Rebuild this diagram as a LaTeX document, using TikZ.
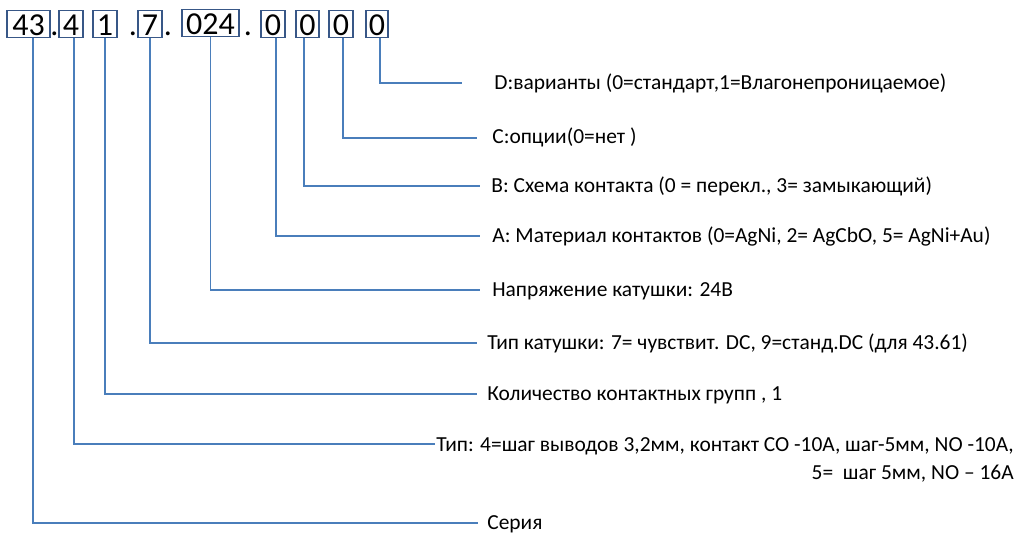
\documentclass[tikz,border=0pt]{standalone}
\usepackage{fontspec}
\setmainfont{Carlito}
\usepackage{tikz}
\usetikzlibrary{positioning, calc}
\definecolor{boxedge}{RGB}{56,87,135}
\definecolor{leadblue}{RGB}{74,126,187}
\tikzset{
  codebox/.style={rectangle, draw=boxedge, line width=0.6pt, inner sep=0pt,
    text height=14.7pt, text depth=1.1pt, minimum width=#1,
    font=\fontsize{18.2}{20}\selectfont},
  codedot/.style={inner sep=0pt, anchor=base, font=\fontsize{18.2}{20}\selectfont},
  lbl/.style={inner sep=0pt, anchor=base west, font=\fontsize{12.2}{14}\selectfont},
  lead/.style={line width=1.1pt, color=leadblue}
}
\newcommand{\codept}{\makebox[2.5pt]{.}}
\begin{document}
\begin{tikzpicture}[x=0.02cm, y=-0.02cm]
  \useasboundingbox (0,0) rectangle (1025,540);

  % code boxes
  \node[codebox=0.86cm] (b43) at (28.5,24) {43};
  \node[codebox=0.48cm] (b4) at (71,24) {4};
  \node[codebox=0.48cm] (b1) at (105,24) {1};
  \node[codebox=0.48cm] (b7) at (150,24) {7};
  \node[codebox=1.14cm] (b024) at (210.5,23) {024};
  \node[codebox=0.48cm] (bA) at (273,24) {0};
  \node[codebox=0.46cm] (bB) at (307.5,24) {0};
  \node[codebox=0.48cm] (bC) at (341,24) {0};
  \node[codebox=0.44cm] (bD) at (377,24) {0};

  % dots between groups
  \node[codedot] (p1) at (54.5,36) {\codept};
  \node[codedot] (p2) at (133,36) {\codept};
  \node[codedot] (p3) at (168,36) {\codept};
  \node[codedot] (p4) at (248,36) {\codept};

  % ends of the leader lines
  \coordinate (eD) at (462,83);
  \coordinate (eC) at (477,138);
  \coordinate (eB) at (480,186);
  \coordinate (eA) at (480,236);
  \coordinate (eU) at (480,290);
  \coordinate (eK) at (477,343);
  \coordinate (eN) at (477,394);
  \coordinate (eT) at (435,444);
  \coordinate (eS) at (478,523);

  % labels
  \node[lbl] (lD) at (494,90) {D:варианты (0=стандарт,1=Влагонепроницаемое)};
  \node[lbl] (lC) at (492,144) {С:опции(0=нет )};
  \node[lbl] (lB) at (491,193) {В: Схема контакта (0 = перекл., 3= замыкающий)};
  \node[lbl] (lA) at (492,243) {А: Материал контактов (0=AgNi, 2= AgCbO, 5= AgNi+Au)};
  \node[lbl] (lU) at (492,297) {Напряжение катушки: 24В};
  \node[lbl] (lK) at (487,350) {Тип катушки: 7= чувствит. DC, 9=станд.DC (для 43.61)};
  \node[lbl] (lN) at (487,401) {Количество контактных групп , 1};
  \node[lbl, align=right, font=\fontsize{12.2}{16.4}\selectfont] (lT) at (436,480)
    {Тип: 4=шаг выводов 3,2мм, контакт CO -10A, шаг-5мм, NO -10A,\\5=\ \ шаг 5мм, NO – 16A};
  \node[lbl] (lS) at (487,530) {Серия};

  % leader lines
  \draw[lead] ([xshift=0.06cm]bD.south) |- (eD);
  \draw[lead] ([xshift=0.04cm]bC.south) |- (eC);
  \draw[lead] ([xshift=-0.07cm]bB.south) |- (eB);
  \draw[lead] ([xshift=0.06cm]bA.south) |- (eA);
  \draw[lead] (b024.south) |- (eU);
  \draw[lead] (b7.south) |- (eK);
  \draw[lead] (b1.south) |- (eN);
  \draw[lead] ([xshift=0.06cm]b4.south) |- (eT);
  \draw[lead] ([xshift=0.09cm]b43.south) |- (eS);
\end{tikzpicture}
\end{document}
